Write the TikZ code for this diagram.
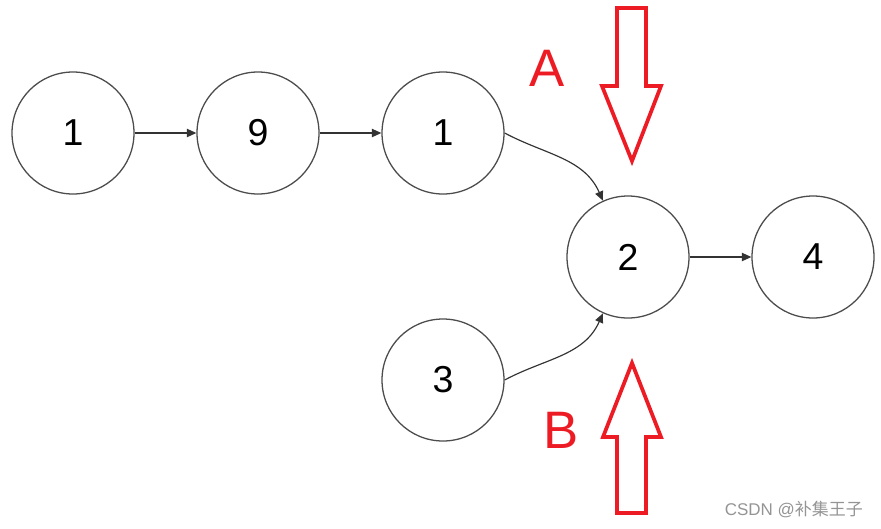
\documentclass[tikz,border=0pt]{standalone}
\usepackage{fontspec}
\setmainfont{Liberation Sans}
\newfontfamily\cjk{Noto Sans CJK SC}
\usetikzlibrary{arrows.meta}
\usetikzlibrary{positioning}
\definecolor{markred}{RGB}{237,28,36}

\begin{document}
\begin{tikzpicture}[
    x=0.03cm, y=-0.03cm,
    % list nodes
    num/.style={circle, draw=black!70, line width=1.1pt, minimum size=3.66cm, inner sep=0pt,
                font=\fontsize{32}{36}\selectfont},
    link/.style={draw=black!80, line width=1pt, -{Triangle[length=8pt,width=7pt]}},
    % hollow red pointer arrows
    pointer/.style={draw=markred, line width=3.2pt, line join=miter},
    tag/.style={text=markred, font=\fontsize{45}{50}\selectfont},
]
\useasboundingbox (0,0) rectangle (881,528);

% =========================================================
% upper list and shared tail
% =========================================================
\node[num] (a1) at (73,133)  {1};
\node[num] (a2) at (258,133) {9};
\node[num] (a3) at (443,133) {1};
\node[num] (c1) at (628,257) {2};
\node[num] (c2) at (813,257) {4};

% lower list
\node[num] (b1) at (443,380) {3};

% links
\draw[link] (a1) -- (a2);
\draw[link] (a2) -- (a3);
\draw[link] (a3.east) to[out=-28, in=114] (c1);
\draw[link] (c1) -- (c2);
\draw[link] (b1.east) to[out=28, in=246] (c1);

% =========================================================
% pointers A and B
% =========================================================
\draw[pointer] (617,8) -- (646,8) -- (646,86) -- (661,86) -- (632,161)
    -- (602,86) -- (617,86) -- cycle;
\draw[pointer] (617,513) -- (646,513) -- (646,437) -- (661,437) -- (632,363)
    -- (603,437) -- (617,437) -- cycle;

\node[tag] (tA) at (547,68)  {A};
\node[tag] (tB) at (561,430) {B};

% watermark
\node[text=black!42, font=\fontsize{14.5}{17}\selectfont, anchor=east] (mark) at (867,510)
    {CSDN @{\cjk 补集王子}};
\end{tikzpicture}
\end{document}
